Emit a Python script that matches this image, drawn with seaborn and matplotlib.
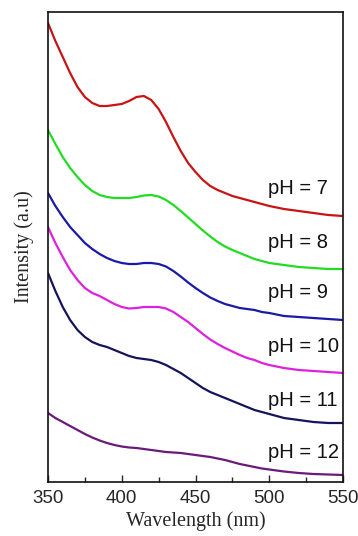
import numpy as np
import pandas as pd
import matplotlib
matplotlib.use("Agg")
import matplotlib.pyplot as plt
import seaborn as sns
from matplotlib.ticker import MultipleLocator

wavelength = [350, 355, 360, 365, 370, 375, 380, 385, 390, 395, 400,
              405, 410, 415, 420, 425, 430, 435, 440, 445, 450,
              455, 460, 465, 470, 475, 480, 485, 490, 495, 500,
              510, 520, 530, 540, 550]
ph7 = [459, 441, 425, 409, 395, 385, 379, 376, 376, 377, 378,
       381, 385, 386, 382, 373, 360, 345, 331, 319, 310,
       302, 296, 292, 289, 286, 284, 282, 280, 278, 276,
       273, 271, 269, 267, 266]
ph8 = [352, 338, 325, 314, 305, 297, 291, 287, 285, 284, 284,
       284, 285, 286.5, 287, 285.5, 282, 277, 271, 264.5, 258,
       251.5, 245.5, 240, 235.5, 232, 229, 226, 223, 221, 219,
       217, 215, 214, 213, 213]
ph9 = [289, 276, 265, 255, 247, 239, 233, 228, 224, 221, 219,
       218, 218, 219, 219, 218, 215.5, 211, 205.5, 199.5, 194,
       189, 184.5, 181, 178, 176, 174, 173, 172, 170, 169,
       166, 165, 164, 163, 162]
ph10 = [255, 239, 225, 212, 202, 194, 189, 186, 182, 178, 175,
        173.5, 174, 175, 175, 175, 173.5, 170, 165, 160, 154,
        148, 142.5, 138, 134, 130.5, 127, 124, 122, 119, 117,
        114, 112, 111, 110, 109]
ph11 = [209, 191, 175, 162, 152, 145, 140, 137, 135, 132, 129,
        126, 124, 123, 122, 120, 117, 113, 109, 104, 99,
        94, 90, 87, 84, 81, 78, 75, 72, 70, 68,
        64, 62, 60, 59, 59]
ph12 = [69, 64, 60, 56, 52, 48, 44.5, 41.5, 39, 37, 35.5,
        34.5, 34, 33, 32, 31, 30, 29.5, 29, 28, 27,
        26, 25, 23.5, 22, 20, 18, 16.5, 15, 13.5, 12.5,
        10.5, 9, 8, 7.5, 7]

series_names = ["pH = 7", "pH = 8", "pH = 9", "pH = 10", "pH = 11", "pH = 12"]
series_values = [ph7, ph8, ph9, ph10, ph11, ph12]
label_y = [294, 239, 190, 135, 82, 29]
label_x = 499
colors = ["#c81414", "#22dc22", "#1a1aa8", "#dc22dc", "#14145c", "#6a1a78"]

frames = []
for name, vals in zip(series_names, series_values):
    frames.append(pd.DataFrame({"Wavelength": wavelength, "Intensity": vals, "pH": name}))
df = pd.concat(frames, ignore_index=True)

sns.set_style("ticks")
plt.rcParams["font.family"] = ["Liberation Sans", "DejaVu Sans"]

fig = plt.figure(figsize=(3.58, 5.36), dpi=100)
ax = fig.add_axes([48 / 358, 1 - 482 / 536, (343 - 48) / 358, (482 - 12) / 536])

sns.lineplot(data=df, x="Wavelength", y="Intensity", hue="pH",
             palette=dict(zip(series_names, colors)), linewidth=1.6,
             legend=False, ax=ax)
for line in ax.get_lines():
    line.set_solid_joinstyle("round")

for name, y in zip(series_names, label_y):
    ax.text(label_x, y, name, fontsize=14.5, va="center", ha="left",
            family=["Liberation Sans", "DejaVu Sans"], color="#111111")

ax.set_xlim(350, 550)
ax.set_ylim(0, 470)
ax.set_yticks([])
ax.xaxis.set_major_locator(MultipleLocator(50))
ax.xaxis.set_minor_locator(MultipleLocator(25))
ax.tick_params(axis="x", which="major", direction="in", length=5, width=1,
               labelsize=13.5, pad=6, top=False)
ax.tick_params(axis="x", which="minor", direction="in", length=3.5, width=1, top=False)
for s in ax.spines.values():
    s.set_visible(True)
    s.set_linewidth(1.2)
    s.set_color("#111111")

ax.set_xlabel("Wavelength (nm)", family=["Liberation Serif", "DejaVu Serif"],
              fontsize=14.5, labelpad=3)
ax.set_ylabel("Intensity (a.u)", family=["Liberation Serif", "DejaVu Serif"],
              fontsize=14.5, labelpad=10)

fig.savefig("out.png", dpi=100)
